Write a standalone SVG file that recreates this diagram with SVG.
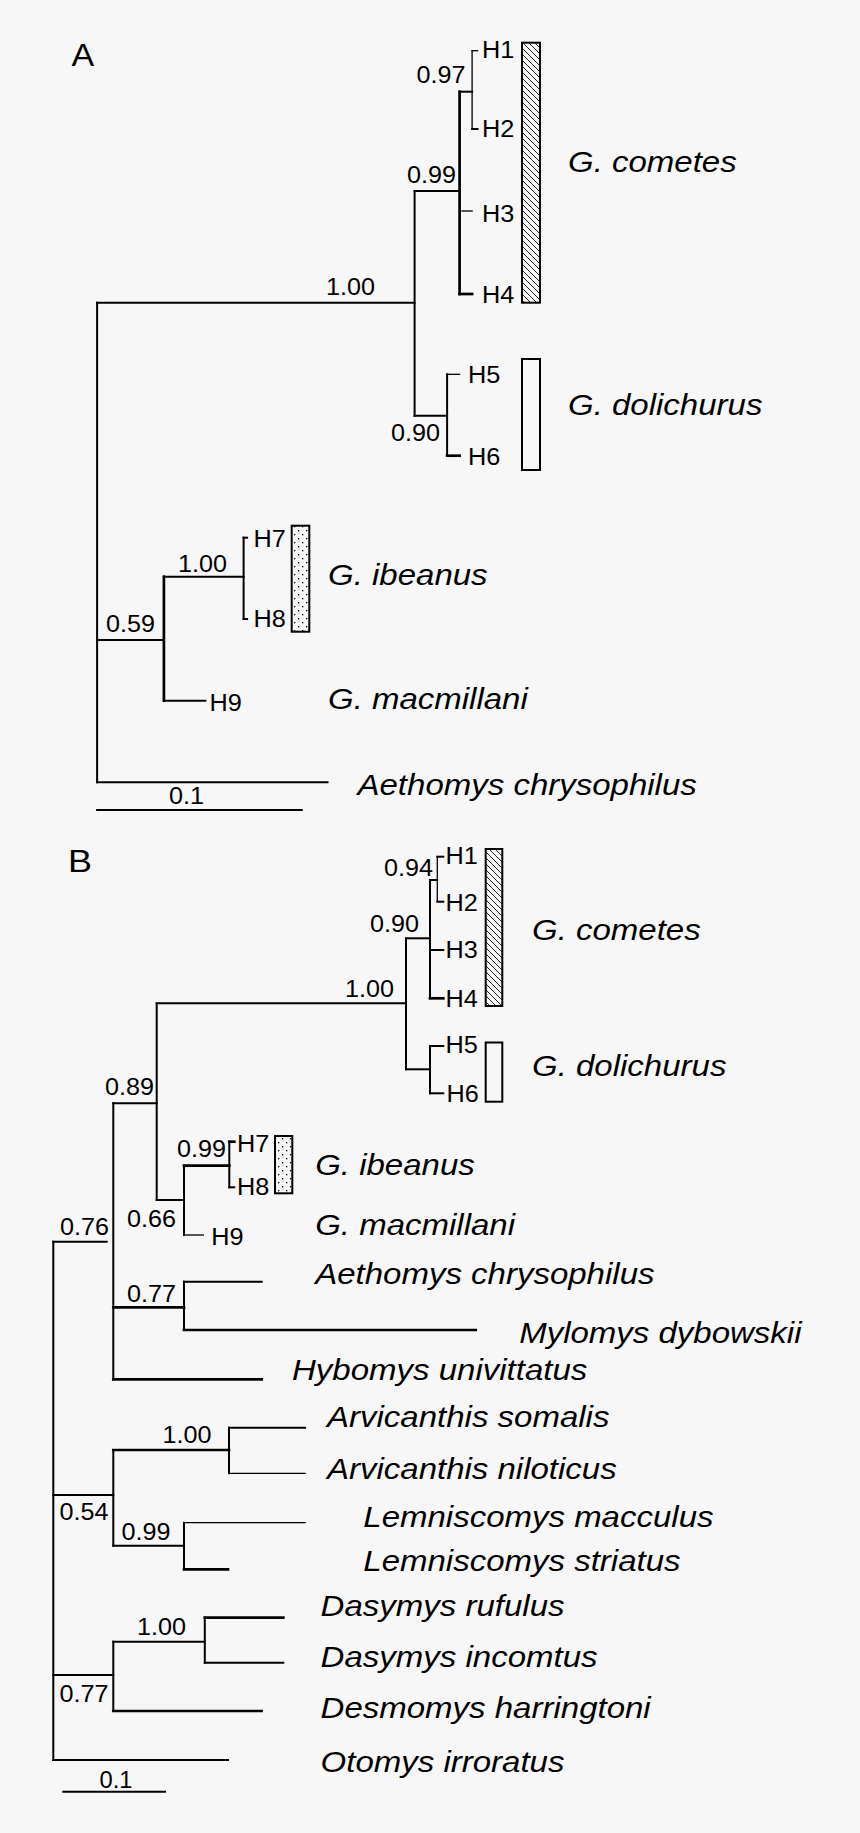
<svg xmlns="http://www.w3.org/2000/svg" width="860" height="1833" viewBox="0 0 860 1833">
<style>
.br{fill:none;stroke:#000;stroke-linecap:square}
.t1{stroke-width:1.3}
.t2{stroke-width:2}
.t3{stroke-width:2.7}
.num{font-family:"Liberation Sans",Arial,sans-serif;font-size:23px;fill:#000}
.sp{font-family:"Liberation Sans",Arial,sans-serif;font-size:30px;font-style:italic;fill:#000}
.pl{font-family:"Liberation Sans",Arial,sans-serif;font-size:31px;fill:#000}
.box{stroke:#000;stroke-width:2}
</style>
<defs>
<pattern id="hatch" patternUnits="userSpaceOnUse" width="6" height="6">
<path d="M0,0 L6,6 M-1,5 L1,7 M5,-1 L7,1" stroke="#000" stroke-width="0.85"/>
</pattern>
<pattern id="dots" patternUnits="userSpaceOnUse" width="8" height="8">
<rect x="2" y="2" width="1.3" height="1.3" fill="#000"/>
<rect x="6" y="6" width="1.3" height="1.3" fill="#000"/>
</pattern>
</defs>
<rect width="860" height="1833" fill="#f7f7f7"/>

<g id="connectors">
<!-- Panel A -->
<path class="br t2" d="M97.1,302.7 V782.3"/>
<path class="br t2" d="M97.1,302.7 H414.6"/>
<path class="br t2" d="M414.6,191 V415.7"/>
<path class="br t2" d="M414.6,191 H459.6"/>
<path class="br t3" d="M459.6,91.7 V294"/>
<path class="br t2" d="M459.6,91.7 H472.1"/>
<path class="br t1" d="M472.1,50.7 V129"/>
<path class="br t1" d="M472.1,50.7 H477.5"/>
<path class="br t2" d="M472.1,129 H477.5"/>
<path class="br t1" d="M462,211 H472.1"/>
<path class="br t3" d="M459.6,294 H472.1"/>
<path class="br t2" d="M414.6,415.7 H447.1"/>
<path class="br t2" d="M447.1,374.3 V455.7"/>
<path class="br t1" d="M447.1,374.3 H459.6"/>
<path class="br t3" d="M447.1,455.7 H459.6"/>
<path class="br t2" d="M97.1,640 H163.9"/>
<path class="br t3" d="M163.9,576.7 V700.7"/>
<path class="br t2" d="M163.9,576.7 H243.6"/>
<path class="br t2" d="M243.6,537.7 V619"/>
<path class="br t2" d="M243.6,537.7 H247.1"/>
<path class="br t2" d="M243.6,619 H247.1"/>
<path class="br t2" d="M163.9,700.7 H205.4"/>
<path class="br t2" d="M97.1,782.3 H327.5"/>
<path class="br t2" d="M97.1,810 H301.8"/>
<!-- Panel B -->
<path class="br t2" d="M53.3,1241.7 V1760"/>
<path class="br t2" d="M53.3,1241.7 H106.7"/>
<path class="br t2" d="M113.3,1103.3 V1379.3"/>
<path class="br t2" d="M113.3,1103.3 H156.7"/>
<path class="br t2" d="M156.7,1003.3 V1200"/>
<path class="br t2" d="M156.7,1003.3 H406"/>
<path class="br t2" d="M406,938.3 V1069.3"/>
<path class="br t2" d="M406,938.3 H430"/>
<path class="br t2" d="M430,880 V998.3"/>
<path class="br t2" d="M430,880 H437.3"/>
<path class="br t1" d="M437.3,856.7 V901.7"/>
<path class="br t2" d="M437.3,856.7 H443.3"/>
<path class="br t2" d="M437.3,901.7 H443.3"/>
<path class="br t2" d="M430,950 H443.3"/>
<path class="br t3" d="M430,998.3 H443.3"/>
<path class="br t2" d="M406,1069.3 H430"/>
<path class="br t2" d="M430,1046 V1093.3"/>
<path class="br t2" d="M430,1046 H443.3"/>
<path class="br t2" d="M430,1093.3 H443.3"/>
<path class="br t2" d="M156.7,1200 H184"/>
<path class="br t2" d="M184,1165.7 V1235"/>
<path class="br t3" d="M184,1165.7 H229.3"/>
<path class="br t2" d="M229.3,1141.7 V1187.3"/>
<path class="br t3" d="M229.3,1141.7 H234.3"/>
<path class="br t2" d="M229.3,1187.3 H234.3"/>
<path class="br t1" d="M184,1235 H203.3"/>
<path class="br t3" d="M113.3,1307.3 H184"/>
<path class="br t2" d="M184,1281.7 V1330"/>
<path class="br t2" d="M184,1281.7 H261.7"/>
<path class="br t3" d="M184,1330 H475.7"/>
<path class="br t3" d="M113.3,1379.3 H261.7"/>
<path class="br t2" d="M53.3,1495 H113.3"/>
<path class="br t2" d="M113.3,1450 V1545.7"/>
<path class="br t3" d="M113.3,1450 H229"/>
<path class="br t2" d="M229,1427.7 V1473.3"/>
<path class="br t2" d="M229,1427.7 H305.1"/>
<path class="br t1" d="M229,1473.3 H305.1"/>
<path class="br t2" d="M113.3,1545.7 H184"/>
<path class="br t2" d="M184,1522.7 V1569.3"/>
<path class="br t1" d="M184,1522.7 H305.1"/>
<path class="br t3" d="M184,1569.3 H228"/>
<path class="br t2" d="M53.3,1675 H113.3"/>
<path class="br t2" d="M113.3,1641.7 V1711"/>
<path class="br t2" d="M113.3,1641.7 H204.8"/>
<path class="br t2" d="M204.8,1617.7 V1662.7"/>
<path class="br t3" d="M204.8,1617.7 H283.3"/>
<path class="br t2" d="M204.8,1662.7 H283.3"/>
<path class="br t3" d="M113.3,1711 H261.5"/>
<path class="br t2" d="M53.3,1760 H228"/>
<path class="br t2" d="M63.3,1791.7 H165"/>
</g>

<!-- Panel A -->
<g id="panelA-label"><text class="pl" x="71.5" y="65.7" textLength="22.7" lengthAdjust="spacingAndGlyphs">A</text></g>
<g id="A-support">
<text class="num" x="416.5" y="83.3" textLength="49" lengthAdjust="spacingAndGlyphs">0.97</text>
<text class="num" x="407" y="183.3" textLength="49" lengthAdjust="spacingAndGlyphs">0.99</text>
<text class="num" x="326" y="295" textLength="49" lengthAdjust="spacingAndGlyphs">1.00</text>
<text class="num" x="391" y="440.7" textLength="49" lengthAdjust="spacingAndGlyphs">0.90</text>
<text class="num" x="178" y="571.7" textLength="49" lengthAdjust="spacingAndGlyphs">1.00</text>
<text class="num" x="106" y="632" textLength="49" lengthAdjust="spacingAndGlyphs">0.59</text>
</g>
<g id="A-H1"><text class="num" x="482" y="57.7" textLength="32.3" lengthAdjust="spacingAndGlyphs">H1</text></g>
<g id="A-H2"><text class="num" x="482" y="137.3" textLength="32.3" lengthAdjust="spacingAndGlyphs">H2</text></g>
<g id="A-H3"><text class="num" x="482" y="221.7" textLength="32.3" lengthAdjust="spacingAndGlyphs">H3</text></g>
<g id="A-H4"><text class="num" x="482" y="302.7" textLength="32.3" lengthAdjust="spacingAndGlyphs">H4</text></g>
<g id="A-H5"><text class="num" x="468" y="383.3" textLength="32.3" lengthAdjust="spacingAndGlyphs">H5</text></g>
<g id="A-H6"><text class="num" x="468" y="465" textLength="32.3" lengthAdjust="spacingAndGlyphs">H6</text></g>
<g id="A-H7"><text class="num" x="253.5" y="546.7" textLength="32.3" lengthAdjust="spacingAndGlyphs">H7</text></g>
<g id="A-H8"><text class="num" x="253.5" y="626.7" textLength="32.3" lengthAdjust="spacingAndGlyphs">H8</text></g>
<g id="A-H9"><text class="num" x="209.5" y="710.7" textLength="32.3" lengthAdjust="spacingAndGlyphs">H9</text></g>
<g id="A-cometes">
<rect class="box" x="522" y="42.7" width="18" height="260" fill="url(#hatch)"/>
<text class="sp" x="568" y="171.7" textLength="168.7" lengthAdjust="spacingAndGlyphs">G. cometes</text>
</g>
<g id="A-dolichurus">
<rect class="box" x="522" y="359" width="18" height="111" fill="none"/>
<text class="sp" x="568" y="415" textLength="194.4" lengthAdjust="spacingAndGlyphs">G. dolichurus</text>
</g>
<g id="A-ibeanus">
<rect class="box" x="291.7" y="525.7" width="17.6" height="106" fill="url(#dots)"/>
<text class="sp" x="328" y="585" textLength="159.6" lengthAdjust="spacingAndGlyphs">G. ibeanus</text>
</g>
<g id="A-macmillani"><text class="sp" x="328" y="709" textLength="199.8" lengthAdjust="spacingAndGlyphs">G. macmillani</text></g>
<g id="A-aethomys"><text class="sp" x="357.5" y="795" textLength="339.3" lengthAdjust="spacingAndGlyphs">Aethomys chrysophilus</text></g>
<g id="A-scale"><text class="num" x="169" y="804" textLength="35" lengthAdjust="spacingAndGlyphs">0.1</text></g>

<!-- Panel B -->
<g id="panelB-label"><text class="pl" x="68" y="871.7" textLength="24" lengthAdjust="spacingAndGlyphs">B</text></g>
<g id="B-support">
<text class="num" x="384" y="875.7" textLength="49" lengthAdjust="spacingAndGlyphs">0.94</text>
<text class="num" x="370" y="932.3" textLength="49" lengthAdjust="spacingAndGlyphs">0.90</text>
<text class="num" x="345" y="996.7" textLength="49" lengthAdjust="spacingAndGlyphs">1.00</text>
<text class="num" x="105" y="1095" textLength="49" lengthAdjust="spacingAndGlyphs">0.89</text>
<text class="num" x="177" y="1157.3" textLength="49" lengthAdjust="spacingAndGlyphs">0.99</text>
<text class="num" x="127" y="1226.7" textLength="49" lengthAdjust="spacingAndGlyphs">0.66</text>
<text class="num" x="60" y="1235" textLength="49" lengthAdjust="spacingAndGlyphs">0.76</text>
<text class="num" x="127" y="1301.7" textLength="49" lengthAdjust="spacingAndGlyphs">0.77</text>
<text class="num" x="162.5" y="1442.7" textLength="49" lengthAdjust="spacingAndGlyphs">1.00</text>
<text class="num" x="59.5" y="1520" textLength="49" lengthAdjust="spacingAndGlyphs">0.54</text>
<text class="num" x="121.5" y="1540" textLength="49" lengthAdjust="spacingAndGlyphs">0.99</text>
<text class="num" x="137" y="1635" textLength="49" lengthAdjust="spacingAndGlyphs">1.00</text>
<text class="num" x="59.5" y="1701.7" textLength="49" lengthAdjust="spacingAndGlyphs">0.77</text>
</g>
<g id="B-H1"><text class="num" x="445.5" y="864.3" textLength="32.3" lengthAdjust="spacingAndGlyphs">H1</text></g>
<g id="B-H2"><text class="num" x="445.5" y="910.7" textLength="32.3" lengthAdjust="spacingAndGlyphs">H2</text></g>
<g id="B-H3"><text class="num" x="445.5" y="958.3" textLength="32.3" lengthAdjust="spacingAndGlyphs">H3</text></g>
<g id="B-H4"><text class="num" x="445.5" y="1007.3" textLength="32.3" lengthAdjust="spacingAndGlyphs">H4</text></g>
<g id="B-H5"><text class="num" x="445.5" y="1053.3" textLength="32.3" lengthAdjust="spacingAndGlyphs">H5</text></g>
<g id="B-H6"><text class="num" x="446.5" y="1101.7" textLength="32.3" lengthAdjust="spacingAndGlyphs">H6</text></g>
<g id="B-H7"><text class="num" x="237" y="1151.7" textLength="32.3" lengthAdjust="spacingAndGlyphs">H7</text></g>
<g id="B-H8"><text class="num" x="237" y="1195" textLength="32.3" lengthAdjust="spacingAndGlyphs">H8</text></g>
<g id="B-H9"><text class="num" x="211.3" y="1245" textLength="32.3" lengthAdjust="spacingAndGlyphs">H9</text></g>
<g id="B-cometes">
<rect class="box" x="485.7" y="849" width="16.6" height="157" fill="url(#hatch)"/>
<text class="sp" x="532" y="940" textLength="168.7" lengthAdjust="spacingAndGlyphs">G. cometes</text>
</g>
<g id="B-dolichurus">
<rect class="box" x="485.7" y="1042.5" width="16.6" height="59.2" fill="none"/>
<text class="sp" x="532" y="1076" textLength="194.4" lengthAdjust="spacingAndGlyphs">G. dolichurus</text>
</g>
<g id="B-ibeanus">
<rect class="box" x="275" y="1136" width="17.3" height="57.3" fill="url(#dots)"/>
<text class="sp" x="315.2" y="1175" textLength="159.6" lengthAdjust="spacingAndGlyphs">G. ibeanus</text>
</g>
<g id="B-macmillani"><text class="sp" x="315.2" y="1235" textLength="199.8" lengthAdjust="spacingAndGlyphs">G. macmillani</text></g>
<g id="B-aethomys"><text class="sp" x="315.2" y="1284" textLength="339.3" lengthAdjust="spacingAndGlyphs">Aethomys chrysophilus</text></g>
<g id="B-mylomys"><text class="sp" x="519.2" y="1343.3" textLength="282.3" lengthAdjust="spacingAndGlyphs">Mylomys dybowskii</text></g>
<g id="B-hybomys"><text class="sp" x="292" y="1380" textLength="295.3" lengthAdjust="spacingAndGlyphs">Hybomys univittatus</text></g>
<g id="B-arv-somalis"><text class="sp" x="327" y="1427" textLength="282.4" lengthAdjust="spacingAndGlyphs">Arvicanthis somalis</text></g>
<g id="B-arv-niloticus"><text class="sp" x="327" y="1479" textLength="289.7" lengthAdjust="spacingAndGlyphs">Arvicanthis niloticus</text></g>
<g id="B-lem-macculus"><text class="sp" x="363.3" y="1527" textLength="350.2" lengthAdjust="spacingAndGlyphs">Lemniscomys macculus</text></g>
<g id="B-lem-striatus"><text class="sp" x="363.3" y="1571" textLength="317.2" lengthAdjust="spacingAndGlyphs">Lemniscomys striatus</text></g>
<g id="B-das-rufulus"><text class="sp" x="320.6" y="1616" textLength="243.9" lengthAdjust="spacingAndGlyphs">Dasymys rufulus</text></g>
<g id="B-das-incomtus"><text class="sp" x="320.6" y="1667" textLength="276.9" lengthAdjust="spacingAndGlyphs">Dasymys incomtus</text></g>
<g id="B-desmomys"><text class="sp" x="320.6" y="1718" textLength="330.1" lengthAdjust="spacingAndGlyphs">Desmomys harringtoni</text></g>
<g id="B-otomys"><text class="sp" x="320.6" y="1772" textLength="243.9" lengthAdjust="spacingAndGlyphs">Otomys irroratus</text></g>
<g id="B-scale"><text class="num" x="99.5" y="1788.3" textLength="33" lengthAdjust="spacingAndGlyphs">0.1</text></g>
</svg>
